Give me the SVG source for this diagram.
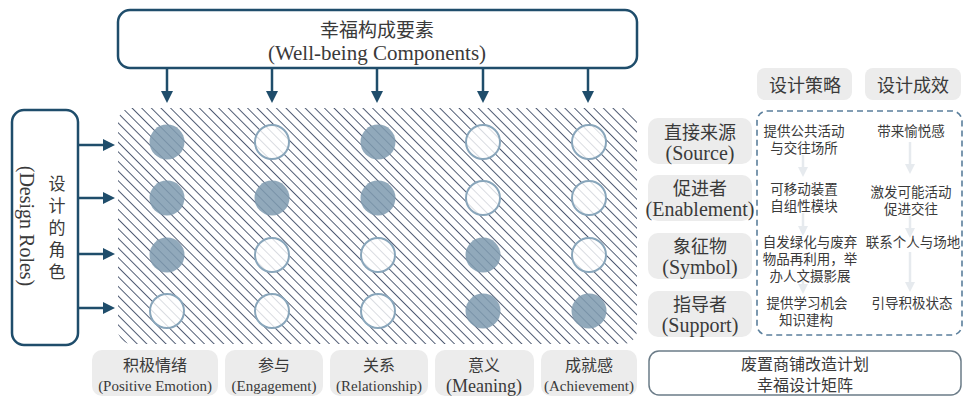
<svg xmlns="http://www.w3.org/2000/svg" width="964" height="397" viewBox="0 0 964 397">
<style>
.t{font-family:"Liberation Serif","Noto Sans CJK SC",serif;fill:#3a3a3a;text-anchor:middle;dominant-baseline:central}
.cn{font-family:"Noto Sans CJK SC","Liberation Serif",sans-serif;fill:#3a3a3a;text-anchor:middle;dominant-baseline:central}
.main{fill:#fff;stroke:#1f4d6b;stroke-width:2.5}
.conn{stroke:#1f4d6b;stroke-width:2.5;fill:none}
.lbl{fill:#ececec}
.full{fill:#7f9bb0;fill-opacity:0.86}
.empty{fill:#fff;fill-opacity:0.78;stroke:#89a6bb;stroke-width:2}
.faint{stroke:#e6eaee;stroke-width:2.5;fill:none}
</style>
<defs>
<marker id="ah" viewBox="0 0 12 12" refX="0" refY="6" markerWidth="12" markerHeight="12" orient="auto" markerUnits="userSpaceOnUse">
<path d="M0,0 L12,6 L0,12 z" fill="#1f4d6b"/>
</marker>
<marker id="fah" viewBox="0 0 10 10" refX="0" refY="5" markerWidth="10" markerHeight="10" orient="auto" markerUnits="userSpaceOnUse">
<path d="M0,0 L10,5 L0,10 z" fill="#e6eaee"/>
</marker>
<pattern id="hatch" patternUnits="userSpaceOnUse" width="6.8" height="6.8" patternTransform="rotate(-45)">
<rect width="6.8" height="6.8" fill="#fff"/>
<line x1="3.4" y1="-1" x2="3.4" y2="7.8" stroke="#4f5b73" stroke-width="1"/>
</pattern>
<clipPath id="hclip"><rect x="118" y="108" width="519" height="236" rx="14"/></clipPath>
</defs>
<rect width="964" height="397" fill="#fff"/>

<g id="top-box">
<rect class="main" x="118" y="10" width="519" height="58" rx="12"/>
<text class="cn" x="377" y="28" font-size="19">幸福构成要素</text>
<text class="t" x="377" y="53" font-size="21">(Well-being Components)</text>
</g>

<g id="roles-box">
<rect class="main" x="12" y="110" width="66" height="235" rx="12"/>
<text class="cn" x="57" y="182" font-size="17">设</text>
<text class="cn" x="57" y="204" font-size="17">计</text>
<text class="cn" x="57" y="226" font-size="17">的</text>
<text class="cn" x="57" y="248" font-size="17">角</text>
<text class="cn" x="57" y="270" font-size="17">色</text>
<text class="t" x="0" y="0" font-size="20" transform="translate(27,226) rotate(90)">(Design Roles)</text>
</g>

<g id="connectors">
<line class="conn" x1="167" y1="68" x2="167" y2="91" marker-end="url(#ah)"/>
<line class="conn" x1="272" y1="68" x2="272" y2="91" marker-end="url(#ah)"/>
<line class="conn" x1="377" y1="68" x2="377" y2="91" marker-end="url(#ah)"/>
<line class="conn" x1="483" y1="68" x2="483" y2="91" marker-end="url(#ah)"/>
<line class="conn" x1="588" y1="68" x2="588" y2="91" marker-end="url(#ah)"/>
<line class="conn" x1="78" y1="145" x2="103" y2="145" marker-end="url(#ah)"/>
<line class="conn" x1="78" y1="198" x2="103" y2="198" marker-end="url(#ah)"/>
<line class="conn" x1="78" y1="254" x2="103" y2="254" marker-end="url(#ah)"/>
<line class="conn" x1="78" y1="308" x2="103" y2="308" marker-end="url(#ah)"/>
<line class="faint" x1="803" y1="155" x2="803" y2="167" marker-end="url(#fah)"/>
<line class="faint" x1="910" y1="142" x2="910" y2="164" marker-end="url(#fah)"/>
<line class="faint" x1="803" y1="213" x2="803" y2="226" marker-end="url(#fah)"/>
<line class="faint" x1="910" y1="216" x2="910" y2="228" marker-end="url(#fah)"/>
<line class="faint" x1="803" y1="281" x2="803" y2="284" marker-end="url(#fah)"/>
<line class="faint" x1="910" y1="252" x2="910" y2="282" marker-end="url(#fah)"/>
</g>

<g id="matrix">
<rect x="118" y="108" width="519" height="236" fill="url(#hatch)" clip-path="url(#hclip)"/>
<circle class="full" cx="167" cy="142" r="17.5"/>
<circle class="empty" cx="272" cy="142" r="17"/>
<circle class="full" cx="378" cy="142" r="17.5"/>
<circle class="empty" cx="483" cy="142" r="17"/>
<circle class="empty" cx="589" cy="142" r="17"/>
<circle class="full" cx="167" cy="198" r="17.5"/>
<circle class="full" cx="272" cy="198" r="17.5"/>
<circle class="full" cx="378" cy="198" r="17.5"/>
<circle class="empty" cx="483" cy="198" r="17"/>
<circle class="empty" cx="589" cy="198" r="17"/>
<circle class="full" cx="167" cy="255" r="17.5"/>
<circle class="empty" cx="272" cy="255" r="17"/>
<circle class="empty" cx="378" cy="255" r="17"/>
<circle class="full" cx="483" cy="255" r="17.5"/>
<circle class="empty" cx="589" cy="255" r="17"/>
<circle class="empty" cx="167" cy="311" r="17"/>
<circle class="empty" cx="272" cy="311" r="17"/>
<circle class="empty" cx="378" cy="311" r="17"/>
<circle class="full" cx="483" cy="311" r="17.5"/>
<circle class="full" cx="589" cy="311" r="17.5"/>
</g>

<g id="comp-positive">
<rect class="lbl" x="92" y="350" width="126" height="46" rx="10"/>
<text class="cn" x="155" y="364" font-size="16">积极情绪</text>
<text class="t" x="155" y="386" font-size="15">(Positive Emotion)</text>
</g>
<g id="comp-engagement">
<rect class="lbl" x="225" y="350" width="98" height="46" rx="10"/>
<text class="cn" x="274" y="364" font-size="16">参与</text>
<text class="t" x="274" y="386" font-size="15">(Engagement)</text>
</g>
<g id="comp-relationship">
<rect class="lbl" x="330" y="350" width="98" height="46" rx="10"/>
<text class="cn" x="379" y="364" font-size="16">关系</text>
<text class="t" x="379" y="386" font-size="15">(Relationship)</text>
</g>
<g id="comp-meaning">
<rect class="lbl" x="435" y="350" width="99" height="46" rx="10"/>
<text class="cn" x="484" y="364" font-size="16">意义</text>
<text class="t" x="484" y="386" font-size="18">(Meaning)</text>
</g>
<g id="comp-achievement">
<rect class="lbl" x="541" y="350" width="96" height="46" rx="10"/>
<text class="cn" x="589" y="364" font-size="16">成就感</text>
<text class="t" x="589" y="386" font-size="15">(Achievement)</text>
</g>

<g id="hdr-strategy">
<rect class="lbl" x="757" y="68" width="95" height="32" rx="8"/>
<text class="cn" x="805" y="84" font-size="18">设计策略</text>
</g>
<g id="hdr-effect">
<rect class="lbl" x="865" y="68" width="96" height="32" rx="8"/>
<text class="cn" x="913" y="84" font-size="18">设计成效</text>
</g>

<g id="panel">
<rect x="757" y="111" width="205" height="224" rx="10" fill="none" stroke="#5b7f9c" stroke-width="1.6" stroke-dasharray="6 4"/>
</g>

<g id="role-source">
<rect class="lbl" x="648" y="118" width="104" height="46" rx="10"/>
<text class="cn" x="700" y="131" font-size="18">直接来源</text>
<text class="t" x="700" y="153" font-size="20">(Source)</text>
<text class="cn" x="804" y="130" font-size="13.5">提供公共活动</text>
<text class="cn" x="804" y="147" font-size="13.5">与交往场所</text>
<text class="cn" x="911" y="130" font-size="13.5">带来愉悦感</text>
</g>
<g id="role-enablement">
<rect class="lbl" x="648" y="175" width="104" height="46" rx="10"/>
<text class="cn" x="700" y="187" font-size="18">促进者</text>
<text class="t" x="700" y="209" font-size="20">(Enablement)</text>
<text class="cn" x="804" y="188" font-size="13.5">可移动装置</text>
<text class="cn" x="804" y="205" font-size="13.5">自组性模块</text>
<text class="cn" x="911" y="191" font-size="13.5">激发可能活动</text>
<text class="cn" x="911" y="208" font-size="13.5">促进交往</text>
</g>
<g id="role-symbol">
<rect class="lbl" x="648" y="233" width="104" height="46" rx="10"/>
<text class="cn" x="700" y="245" font-size="18">象征物</text>
<text class="t" x="700" y="267" font-size="20">(Symbol)</text>
<text class="cn" x="810" y="241" font-size="13.5">自发绿化与废弃</text>
<text class="cn" x="810" y="258" font-size="13.5">物品再利用，举</text>
<text class="cn" x="810" y="275" font-size="13.5">办人文摄影展</text>
<text class="cn" x="913" y="241" font-size="13.5">联系个人与场地</text>
</g>
<g id="role-support">
<rect class="lbl" x="648" y="291" width="104" height="46" rx="10"/>
<text class="cn" x="700" y="303" font-size="18">指导者</text>
<text class="t" x="700" y="325" font-size="20">(Support)</text>
<text class="cn" x="807" y="302" font-size="13.5">提供学习机会</text>
<text class="cn" x="806" y="319" font-size="13.5">知识建构</text>
<text class="cn" x="912" y="302" font-size="13.5">引导积极状态</text>
</g>

<g id="title-box">
<rect x="649" y="351" width="312" height="44" rx="10" fill="#fff" stroke="#6b7c88" stroke-width="1.5"/>
<text class="cn" x="805" y="363" font-size="16">废置商铺改造计划</text>
<text class="cn" x="805" y="384" font-size="16">幸福设计矩阵</text>
</g>
</svg>
